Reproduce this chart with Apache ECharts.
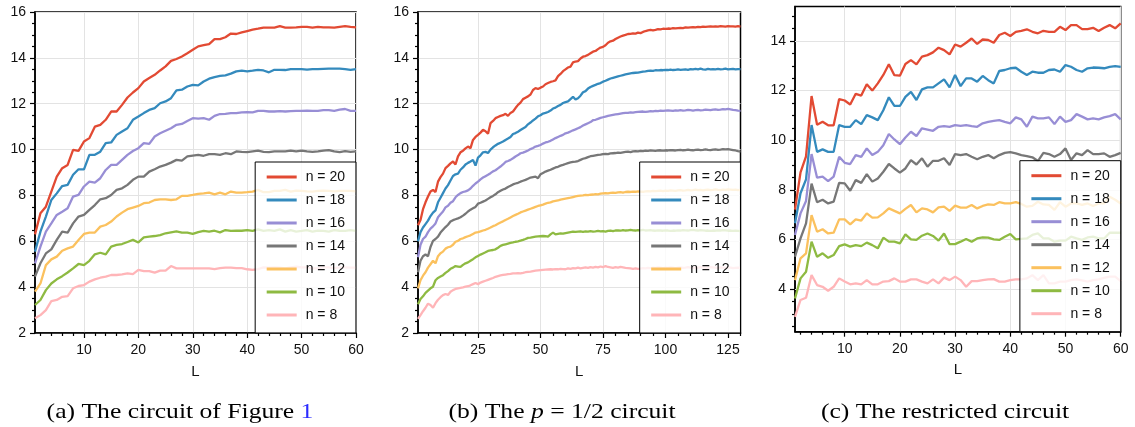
<!DOCTYPE html>
<html>
<head>
<meta charset="utf-8">
<script src="https://cdn.jsdelivr.net/npm/echarts@6/dist/echarts.min.js"></script>
<style>
  html, body { margin: 0; padding: 0; background: #fff; }
  #chart { width: 1135px; height: 427px; }
</style>
</head>
<body>
<div id="chart"></div>
<script>
// ---- series labels and colours (largest n first) ----
const seriesNames = ['n = 20', 'n = 18', 'n = 16', 'n = 14', 'n = 12', 'n = 10', 'n = 8'];
const seriesColors = ['#e24a33', '#348abd', '#988ed5', '#777777', '#fbc15e', '#8eba42', '#ffb5b8'];

// ---- tick labels ----
const yTicks = [2, 4, 6, 8, 10, 12, 14, 16];
const yTicksC = [4, 6, 8, 10, 12, 14];
const yMinorC = [2.5, 3, 3.5, 4.5, 5, 5.5, 6.5, 7, 7.5, 8.5, 9, 9.5, 10.5, 11, 11.5, 12.5, 13, 13.5, 14.5, 15];
const xTicks60 = [10, 20, 30, 40, 50, 60];
const xMinor60 = [2, 4, 6, 8, 12, 14, 16, 18, 22, 24, 26, 28, 32, 34, 36, 38, 42, 44, 46, 48, 52, 54, 56, 58];
const xTicks130 = [25, 50, 75, 100, 125];
const xMinor130 = [5, 10, 15, 20, 30, 35, 40, 45, 55, 60, 65, 70, 80, 85, 90, 95, 105, 110, 115, 120, 130];

// ---- circuit depth L (categories) ----
const lengths60 = Array.from({ length: 60 }, (_, i) => String(i + 1));
const lengths130 = Array.from({ length: 130 }, (_, i) => String(i + 1));

// ---- (a) the circuit of Figure 1, L = 1..60 ----
const a20 = [6.3,7.22,7.51,8.17,8.82,9.19,9.33,9.99,9.94,10.35,10.5,11.0,11.08,11.3,11.66,11.66,11.95,12.27,12.49,12.68,12.97,13.12,13.26,13.45,13.63,13.87,13.95,14.06,14.2,14.35,14.5,14.55,14.6,14.82,14.82,14.9,15.06,15.04,15.11,15.17,15.23,15.27,15.32,15.32,15.32,15.38,15.32,15.32,15.33,15.35,15.35,15.32,15.35,15.33,15.33,15.32,15.35,15.38,15.35,15.33];
const a18 = [5.55,6.42,7.08,7.8,8.09,8.41,8.46,8.9,9.14,9.14,9.77,9.77,9.91,10.28,10.31,10.64,10.79,10.93,11.3,11.44,11.59,11.73,11.81,12.02,12.1,12.24,12.58,12.61,12.75,12.82,12.8,12.97,13.09,13.16,13.21,13.24,13.31,13.41,13.44,13.41,13.44,13.48,13.45,13.37,13.48,13.48,13.47,13.51,13.51,13.51,13.49,13.51,13.51,13.52,13.53,13.53,13.53,13.51,13.48,13.51];
const a16 = [5.04,5.77,6.42,6.78,7.15,7.29,7.44,7.95,8.02,8.39,8.6,8.56,8.75,9.11,9.33,9.33,9.55,9.77,9.94,10.06,10.28,10.25,10.57,10.71,10.82,10.93,11.08,11.12,11.25,11.37,11.35,11.37,11.3,11.47,11.55,11.56,11.59,11.59,11.62,11.63,11.62,11.69,11.69,11.66,11.66,11.68,11.66,11.68,11.69,11.69,11.7,11.69,11.69,11.72,11.72,11.69,11.74,11.77,11.69,11.69];
const a14 = [4.46,5.04,5.47,5.65,6.06,6.42,6.38,6.78,7.08,7.15,7.37,7.58,7.83,7.88,8.02,8.24,8.31,8.46,8.68,8.82,8.82,9.04,9.14,9.26,9.33,9.43,9.55,9.52,9.7,9.74,9.77,9.73,9.8,9.8,9.77,9.84,9.8,9.92,9.9,9.89,9.92,9.95,9.9,9.89,9.92,9.92,9.92,9.95,9.92,9.95,9.92,9.9,9.92,9.95,9.98,9.92,9.89,9.93,9.9,9.92];
const a12 = [3.8,4.16,4.96,5.21,5.33,5.59,5.69,5.77,6.06,6.32,6.38,6.38,6.64,6.71,6.86,7.08,7.25,7.4,7.47,7.54,7.66,7.69,7.8,7.83,7.83,7.8,7.83,7.98,7.98,8.02,8.07,8.09,8.12,8.05,8.12,8.05,8.17,8.12,8.12,8.14,8.17,8.24,8.14,8.14,8.2,8.2,8.24,8.17,8.21,8.2,8.18,8.17,8.2,8.21,8.2,8.18,8.2,8.2,8.2,8.18];
const a10 = [3.22,3.44,3.87,4.16,4.34,4.48,4.64,4.82,5.01,4.96,5.15,5.43,5.5,5.43,5.77,5.84,5.88,5.97,6.06,5.95,6.17,6.2,6.23,6.27,6.35,6.39,6.43,6.38,6.38,6.32,6.4,6.45,6.42,6.46,6.39,6.49,6.45,6.46,6.46,6.49,6.45,6.52,6.45,6.49,6.45,6.52,6.42,6.49,6.42,6.45,6.49,6.42,6.46,6.45,6.42,6.49,6.46,6.45,6.49,6.45];
const a8 = [2.64,2.78,3.0,3.39,3.44,3.58,3.61,3.95,4.05,4.09,4.24,4.34,4.41,4.46,4.53,4.53,4.56,4.6,4.57,4.75,4.7,4.7,4.63,4.72,4.72,4.92,4.82,4.82,4.82,4.82,4.82,4.82,4.82,4.79,4.83,4.85,4.85,4.83,4.83,4.78,4.75,4.79,4.86,4.85,4.86,4.85,4.82,4.86,4.89,4.86,4.86,4.82,4.83,4.86,4.86,4.83,4.86,4.86,4.85,4.85];

// ---- (b) the p = 1/2 circuit, L = 1..130 ----
const b20 = [
  6.7,6.93,7.4,7.7,7.95,8.17,8.24,8.15,8.6,8.8,
  8.95,9.19,9.29,9.4,9.48,9.35,9.7,9.88,9.95,10.05,
  10.13,10.06,10.42,10.55,10.64,10.74,10.86,10.8,10.69,11.15,
  11.25,11.37,11.42,11.47,11.5,11.56,11.47,11.6,11.66,11.81,
  11.95,12.05,12.2,12.26,12.32,12.4,12.6,12.68,12.64,12.7,
  12.75,12.85,12.9,12.95,12.98,13.02,13.2,13.3,13.42,13.5,
  13.58,13.62,13.8,13.84,13.86,13.97,14.05,14.08,14.13,14.2,
  14.27,14.3,14.38,14.45,14.48,14.55,14.66,14.72,14.75,14.82,
  14.88,14.93,14.97,15.0,15.04,15.05,15.07,15.06,15.1,15.08,
  15.13,15.17,15.2,15.22,15.2,15.22,15.25,15.24,15.27,15.26,
  15.28,15.27,15.3,15.29,15.3,15.31,15.3,15.33,15.32,15.33,
  15.34,15.33,15.35,15.34,15.36,15.35,15.36,15.37,15.36,15.37,
  15.36,15.38,15.37,15.36,15.38,15.37,15.37,15.36,15.38,15.36];
const b18 = [
  6.0,6.4,6.6,6.75,6.9,7.1,7.25,7.35,7.7,7.9,
  8.1,8.3,8.45,8.65,8.85,8.92,8.95,9.12,9.22,9.35,
  9.42,9.48,9.55,9.3,9.65,9.75,9.88,9.9,9.85,10.0,
  10.1,10.18,10.25,10.3,10.35,10.42,10.48,10.55,10.68,10.72,
  10.78,10.85,10.92,10.98,11.1,11.18,11.27,11.35,11.45,11.5,
  11.57,11.6,11.64,11.7,11.79,11.83,11.9,11.95,12.03,12.07,
  12.1,12.2,12.3,12.18,12.24,12.35,12.5,12.55,12.66,12.73,
  12.78,12.82,12.87,12.9,12.96,13.0,13.05,13.1,13.13,13.16,
  13.19,13.22,13.25,13.28,13.3,13.32,13.34,13.35,13.36,13.38,
  13.4,13.41,13.43,13.44,13.43,13.46,13.45,13.47,13.46,13.48,
  13.47,13.49,13.47,13.48,13.5,13.48,13.49,13.5,13.48,13.51,
  13.5,13.52,13.5,13.53,13.5,13.49,13.52,13.5,13.51,13.5,
  13.52,13.5,13.51,13.53,13.5,13.51,13.52,13.5,13.51,13.51];
const b16 = [
  5.3,5.85,6.1,6.2,6.4,6.55,6.65,6.78,7.05,7.18,
  7.3,7.48,7.55,7.68,7.75,7.92,8.02,8.1,8.15,8.18,
  8.22,8.3,8.42,8.52,8.6,8.7,8.78,8.84,8.9,8.97,
  9.05,9.1,9.18,9.26,9.35,9.46,9.5,9.55,9.62,9.7,
  9.76,9.84,9.87,9.91,9.96,10.02,10.07,10.13,10.16,10.2,
  10.26,10.31,10.34,10.38,10.44,10.5,10.55,10.6,10.64,10.71,
  10.74,10.79,10.84,10.88,10.93,10.98,11.05,11.1,11.15,11.2,
  11.28,11.3,11.34,11.38,11.41,11.44,11.47,11.49,11.51,11.53,
  11.55,11.57,11.59,11.6,11.6,11.62,11.61,11.63,11.64,11.65,
  11.66,11.64,11.66,11.68,11.67,11.69,11.68,11.7,11.69,11.7,
  11.71,11.7,11.69,11.71,11.7,11.72,11.7,11.71,11.73,11.72,
  11.7,11.72,11.73,11.71,11.72,11.74,11.73,11.72,11.74,11.75,
  11.73,11.74,11.76,11.75,11.77,11.75,11.73,11.72,11.7,11.69];
const b14 = [
  4.65,5.15,5.35,5.42,5.35,5.75,6.02,6.1,6.2,6.38,
  6.5,6.62,6.72,6.86,6.92,6.96,7.0,7.05,7.12,7.2,
  7.3,7.38,7.44,7.5,7.64,7.68,7.73,7.78,7.85,7.92,
  7.98,8.05,8.14,8.2,8.26,8.3,8.37,8.42,8.48,8.52,
  8.55,8.6,8.64,8.68,8.73,8.78,8.8,8.82,8.75,8.92,
  8.98,9.04,9.08,9.12,9.17,9.22,9.25,9.3,9.33,9.37,
  9.41,9.44,9.46,9.47,9.5,9.55,9.6,9.63,9.67,9.71,
  9.73,9.75,9.77,9.78,9.8,9.81,9.8,9.83,9.84,9.85,
  9.87,9.86,9.88,9.9,9.91,9.89,9.92,9.93,9.92,9.94,
  9.93,9.95,9.94,9.96,9.95,9.94,9.96,9.97,9.95,9.97,
  9.96,9.98,9.97,9.96,9.98,9.99,9.97,9.98,10.0,9.98,
  9.97,9.99,10.0,9.98,9.99,10.01,9.99,9.98,10.0,10.01,
  9.99,10.0,10.02,10.01,10.02,10.0,9.98,9.96,9.93,9.91];
const b12 = [
  3.95,4.3,4.5,4.65,4.85,5.0,5.15,5.04,5.35,5.48,
  5.55,5.68,5.74,5.77,5.85,5.98,6.02,6.1,6.13,6.18,
  6.22,6.26,6.32,6.38,6.4,6.43,6.47,6.5,6.55,6.6,
  6.66,6.7,6.76,6.82,6.87,6.93,6.98,7.04,7.1,7.15,
  7.2,7.26,7.3,7.34,7.38,7.42,7.46,7.5,7.54,7.57,
  7.6,7.64,7.68,7.7,7.74,7.76,7.78,7.82,7.84,7.86,
  7.88,7.9,7.93,7.96,7.98,7.99,8.0,8.02,8.01,8.03,
  8.04,8.06,8.05,8.08,8.09,8.1,8.09,8.11,8.12,8.11,
  8.13,8.14,8.12,8.15,8.16,8.15,8.17,8.16,8.18,8.17,
  8.16,8.18,8.19,8.18,8.2,8.19,8.2,8.21,8.19,8.21,
  8.2,8.22,8.21,8.2,8.22,8.23,8.21,8.22,8.24,8.22,
  8.23,8.25,8.23,8.24,8.22,8.24,8.25,8.23,8.24,8.26,
  8.24,8.23,8.25,8.24,8.26,8.25,8.24,8.25,8.23,8.24];
const b10 = [
  3.25,3.48,3.6,3.75,3.85,3.95,4.02,4.3,4.4,4.46,
  4.52,4.62,4.7,4.8,4.85,4.92,4.9,4.88,4.97,5.04,
  5.08,5.15,5.22,5.3,5.36,5.42,5.47,5.52,5.58,5.6,
  5.62,5.65,5.72,5.8,5.84,5.87,5.9,5.93,5.95,5.98,
  6.0,6.03,6.06,6.1,6.15,6.16,6.18,6.2,6.21,6.22,
  6.23,6.22,6.2,6.3,6.38,6.3,6.32,6.34,6.33,6.36,
  6.38,6.4,6.42,6.41,6.42,6.43,6.41,6.43,6.42,6.44,
  6.42,6.43,6.45,6.43,6.44,6.42,6.45,6.46,6.44,6.47,
  6.48,6.46,6.49,6.47,6.48,6.5,6.48,6.47,6.49,6.48,
  6.5,6.47,6.48,6.49,6.47,6.46,6.48,6.47,6.46,6.48,
  6.47,6.45,6.47,6.46,6.48,6.47,6.49,6.48,6.47,6.49,
  6.5,6.48,6.47,6.49,6.48,6.46,6.47,6.45,6.47,6.46,
  6.48,6.47,6.49,6.48,6.46,6.47,6.45,6.46,6.45,6.44];
const b8 = [
  2.62,2.78,2.95,3.1,3.28,3.22,3.1,3.3,3.45,3.56,
  3.65,3.7,3.66,3.8,3.87,3.92,3.95,3.97,3.99,4.02,
  4.04,4.08,4.13,4.18,4.13,4.2,4.24,4.28,4.32,4.36,
  4.4,4.45,4.48,4.51,4.53,4.55,4.57,4.58,4.6,4.6,
  4.61,4.6,4.62,4.65,4.67,4.68,4.7,4.72,4.73,4.74,
  4.75,4.76,4.77,4.78,4.77,4.79,4.78,4.8,4.79,4.78,
  4.82,4.8,4.83,4.82,4.85,4.82,4.84,4.86,4.84,4.87,
  4.85,4.88,4.86,4.9,4.87,4.92,4.88,4.86,4.84,4.87,
  4.85,4.88,4.86,4.84,4.83,4.82,4.8,4.82,4.8,4.81,
  4.83,4.82,4.84,4.83,4.85,4.84,4.86,4.85,4.83,4.85,
  4.84,4.86,4.85,4.83,4.85,4.86,4.84,4.85,4.87,4.85,
  4.84,4.86,4.85,4.87,4.86,4.84,4.85,4.87,4.86,4.85,
  4.84,4.86,4.85,4.84,4.86,4.85,4.83,4.84,4.85,4.84];

// ---- (c) the restricted circuit, L = 1..60 ----
const c20 = [7.2,8.7,9.35,11.78,10.62,10.74,10.6,10.6,11.66,11.6,11.44,11.87,11.8,12.26,12.0,12.29,12.63,13.06,12.62,12.6,13.07,13.23,13.06,13.37,13.43,13.54,13.73,13.63,13.46,13.86,13.77,13.93,14.1,13.88,14.06,14.04,13.93,14.24,14.33,14.2,14.37,14.41,14.47,14.37,14.31,14.41,14.37,14.37,14.57,14.44,14.64,14.64,14.48,14.48,14.53,14.4,14.53,14.64,14.51,14.71];
const c18 = [6.65,7.86,8.42,10.61,9.53,9.63,9.53,9.53,10.61,10.54,10.54,10.81,10.65,11.01,10.92,10.81,11.21,11.73,11.38,11.38,11.75,11.95,11.62,12.05,12.13,12.13,12.29,12.45,12.13,12.63,12.18,12.49,12.49,12.36,12.59,12.42,12.29,12.79,12.83,12.9,12.92,12.76,12.63,12.76,12.72,12.72,12.83,12.85,12.76,13.03,12.96,12.83,12.76,12.9,12.93,12.92,12.9,12.96,12.99,12.96];
const c16 = [6.18,7.05,7.55,9.44,8.49,8.53,8.35,8.53,9.33,9.09,9.04,9.4,9.33,9.67,9.4,9.53,9.8,10.25,10.03,9.84,10.11,10.34,10.17,10.48,10.43,10.38,10.54,10.57,10.54,10.61,10.58,10.61,10.57,10.54,10.68,10.74,10.78,10.81,10.74,10.68,10.92,10.84,10.54,10.95,10.88,10.88,10.92,10.65,10.95,10.74,10.81,11.05,10.95,10.84,10.88,10.84,10.92,10.97,11.05,10.84];
const c14 = [5.3,6.04,6.65,8.25,7.5,7.6,7.45,7.52,8.28,8.26,7.96,8.39,8.28,8.63,8.33,8.46,8.73,9.04,8.86,8.69,8.86,9.2,9.02,9.27,8.93,9.17,9.17,9.27,9.0,9.44,9.4,9.44,9.33,9.23,9.33,9.4,9.27,9.4,9.49,9.52,9.47,9.4,9.36,9.31,9.16,9.49,9.44,9.33,9.44,9.67,9.2,9.47,9.4,9.6,9.44,9.44,9.47,9.33,9.4,9.49];
const c12 = [4.36,5.24,5.44,6.98,6.31,6.41,6.24,6.27,6.81,6.81,6.61,6.81,6.76,7.05,6.88,6.89,7.05,7.25,7.15,7.05,7.23,7.39,7.09,7.25,7.21,7.09,7.29,7.32,7.15,7.36,7.28,7.28,7.39,7.25,7.35,7.41,7.39,7.5,7.45,7.45,7.5,7.43,7.32,7.35,7.52,7.41,7.39,7.19,7.5,7.32,7.45,7.45,7.39,7.45,7.35,7.45,7.45,7.72,7.6,7.45];
const c10 = [3.62,4.43,4.7,5.91,5.3,5.44,5.26,5.37,5.73,5.8,5.71,5.77,5.73,5.87,5.77,5.64,6.07,5.91,5.91,5.84,6.2,6.0,5.98,6.15,6.24,6.14,5.95,6.24,5.81,5.81,5.91,6.02,5.91,6.04,6.08,6.07,6.0,5.98,6.11,6.22,6.0,6.02,6.04,6.18,6.24,6.04,6.04,5.91,5.95,5.95,6.11,6.04,5.98,6.08,6.11,6.04,6.04,6.27,6.27,6.27];
const c8 = [2.88,3.56,3.65,4.56,4.16,4.09,3.93,4.09,4.43,4.3,4.19,4.23,4.19,4.36,4.19,4.19,4.3,4.32,4.43,4.3,4.3,4.39,4.39,4.3,4.23,4.39,4.23,4.46,4.36,4.5,4.36,4.09,4.32,4.32,4.36,4.39,4.4,4.3,4.3,4.36,4.39,4.39,4.43,4.56,4.36,4.56,4.23,4.23,4.3,4.3,4.36,4.39,4.35,4.3,4.36,4.39,4.45,4.5,4.5,4.32];

// ---- styling ----
const SANS = 'Liberation Sans, Arial, sans-serif';
const SERIF = 'Liberation Serif, Times New Roman, serif';
const INK = '#111';
const GRID_GRAY = '#e3e3e3';
const AXIS_LINE = { show: true, lineStyle: { color: '#000', width: 1.5 } };
const TICK_LINE = { color: '#000', width: 1.2 };
const TICK_FONT = { color: INK, fontSize: 14, fontFamily: SANS };

const pick = list => (idx, val) => list.includes(Number(val));

// panel frames (pixels of the plotting areas)
const panels = [
  { grid: { left: 35, top: 12, width: 321, height: 321 }, cats: lengths60, major: xTicks60, minor: xMinor60,
    data: [a20, a18, a16, a14, a12, a10, a8] },
  { grid: { left: 418, top: 12, width: 322.5, height: 321 }, cats: lengths130, major: xTicks130, minor: xMinor130,
    data: [b20, b18, b16, b14, b12, b10, b8] },
  { grid: { left: 795, top: 6.5, width: 325.7, height: 325.2 }, cats: lengths60, major: xTicks60, minor: xMinor60,
    data: [c20, c18, c16, c14, c12, c10, c8] }
];

const grids = [], xAxes = [], yAxes = [], series = [], legends = [];

panels.forEach((p, gi) => {
  grids.push(Object.assign({ show: true, borderColor: '#000', borderWidth: 1.5, backgroundColor: 'transparent', containLabel: false }, p.grid));

  const xMain = xAxes.length;
  xAxes.push({
    type: 'category', gridIndex: gi, data: p.cats, boundaryGap: false, position: 'bottom',
    axisLine: AXIS_LINE,
    axisTick: { show: true, interval: pick(p.major), length: 5, lineStyle: TICK_LINE },
    axisLabel: Object.assign({ interval: pick(p.major), margin: 10 }, TICK_FONT),
    splitLine: { show: true, interval: pick(p.major), lineStyle: { color: GRID_GRAY, width: 1 } },
    name: 'L', nameLocation: 'middle', nameGap: 31,
    nameTextStyle: { color: INK, fontSize: 15, fontFamily: SANS }
  });
  xAxes.push({
    type: 'category', gridIndex: gi, data: p.cats, boundaryGap: false, position: 'bottom',
    axisLine: { show: false },
    axisTick: { show: true, interval: pick(p.minor), length: 3, lineStyle: TICK_LINE },
    axisLabel: { show: false }, splitLine: { show: false }
  });

  const yMain = yAxes.length;
  if (gi < 2) {
    yAxes.push({
      type: 'value', gridIndex: gi, min: 2, max: 16, interval: 2, position: 'left',
      axisLine: AXIS_LINE,
      axisTick: { show: true, length: 5, lineStyle: TICK_LINE },
      minorTick: { show: true, splitNumber: 4, length: 3, lineStyle: TICK_LINE },
      axisLabel: Object.assign({ margin: 9 }, TICK_FONT),
      splitLine: { show: true, lineStyle: { color: GRID_GRAY, width: 1 } },
      minorSplitLine: { show: false }
    });
  } else {
    yAxes.push({
      type: 'value', gridIndex: gi, min: 2.28, max: 15.39, position: 'left',
      axisLine: AXIS_LINE,
      axisTick: { show: true, length: 5, lineStyle: TICK_LINE, customValues: yTicksC },
      axisLabel: Object.assign({ margin: 9, customValues: yTicksC }, TICK_FONT),
      splitLine: { show: false }
    });
    yAxes.push({
      type: 'value', gridIndex: gi, min: 2.28, max: 15.39, position: 'left',
      axisLine: { show: false },
      axisTick: { show: true, length: 3, lineStyle: TICK_LINE, customValues: yMinorC },
      axisLabel: { show: false }, splitLine: { show: false }
    });
    // horizontal grid lines at the labelled values, kept beneath lines and legend
    series.push({
      type: 'line', xAxisIndex: xMain, yAxisIndex: yMain, data: [], z: 1, silent: true,
      markLine: {
        z: 1, silent: true, symbol: 'none', animation: false, label: { show: false },
        lineStyle: { color: GRID_GRAY, width: 1, type: 'solid' },
        data: yTicksC.map(v => ({ yAxis: v }))
      }
    });
  }

  p.data.forEach((vals, si) => {
    series.push({
      type: 'line', name: seriesNames[si], xAxisIndex: xMain, yAxisIndex: yMain,
      data: vals, symbol: 'none', showSymbol: false, z: 3,
      lineStyle: { color: seriesColors[si], width: 2.3 },
      itemStyle: { color: seriesColors[si] },
      emphasis: { disabled: true }
    });
  });

  const g = p.grid;
  legends.push({
    data: seriesNames, orient: 'vertical', z: 10,
    right: 1135 - (g.left + g.width), bottom: 427 - (g.top + g.height),
    itemWidth: 30, itemHeight: 14, itemGap: 9,
    padding: [8, 11, 11, 10],
    backgroundColor: 'rgba(255,255,255,0.8)', borderColor: '#000', borderWidth: 1, borderRadius: 0,
    selectedMode: false,
    itemStyle: { opacity: 0 },
    lineStyle: { width: 3 },
    textStyle: { color: INK, fontSize: 14, fontFamily: SANS, padding: [0, 0, 0, 4] }
  });
});

const captionFont = { fontFamily: SERIF, fontSize: 21, fill: '#000' };
const captions = [
  { x: 180, text: '(a) The circuit of Figure {ref|1}' },
  { x: 562, text: '(b) The {it|p} = 1/2 circuit' },
  { x: 945, text: '(c) The restricted circuit' }
].map(c => ({
  type: 'text', x: c.x, y: 412, scaleX: 1.22, silent: true,
  style: Object.assign({
    text: c.text, align: 'center', verticalAlign: 'middle',
    rich: {
      ref: Object.assign({}, captionFont, { fill: '#2b2bff' }),
      it: Object.assign({}, captionFont, { fontStyle: 'italic' })
    }
  }, captionFont)
}));

const chart = echarts.init(document.getElementById('chart'), null, { renderer: 'canvas' });
chart.setOption({
  animation: false,
  backgroundColor: '#fff',
  color: seriesColors,
  grid: grids,
  xAxis: xAxes,
  yAxis: yAxes,
  legend: legends,
  series: series,
  graphic: captions
});
</script>
</body>
</html>
